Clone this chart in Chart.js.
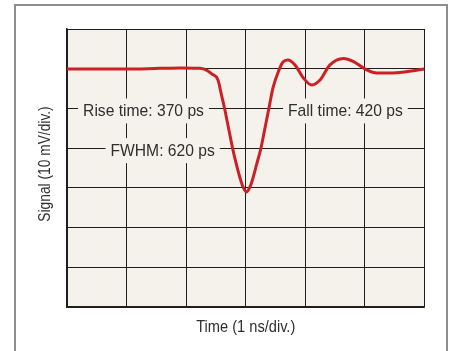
<!DOCTYPE html>
<html>
<head>
<meta charset="utf-8">
<script src="https://cdn.jsdelivr.net/npm/chart.js@4"></script>
<style>
  body { margin: 0; background: #fff; overflow: hidden; }
  #wrap { position: relative; width: 454px; height: 351px; }
  #frame { position: absolute; left: 14px; top: 4px; width: 430px; height: 400px; border: 2px solid #8e8e8e; }
  #myChart { position: absolute; left: 0; top: 0; }
</style>
</head>
<body>
<div id="wrap">
  <div id="frame"></div>
  <canvas id="myChart" width="454" height="351"></canvas>
</div>
<script>
// time in divisions (1 ns/div), signal in divisions (10 mV/div)
const timeDiv = [0, 0.99, 1.56, 1.90, 2.23, 2.35, 2.43, 2.534, 2.593, 2.643, 2.711, 2.778,
  2.845, 2.904, 2.954, 3.013, 3.071, 3.122, 3.180, 3.256, 3.323, 3.390, 3.457, 3.558,
  3.625, 3.709, 3.83, 3.97, 4.11, 4.25, 4.41, 4.64, 4.81, 5.03, 5.20, 5.53, 6.00];
const signalDiv = [5.99, 5.99, 6.01, 6.02, 6.01, 5.96, 5.87, 5.716, 5.339, 5.012, 4.508, 4.004,
  3.576, 3.249, 3.022, 2.896, 3.022, 3.249, 3.576, 4.004, 4.508, 5.012, 5.515, 5.968,
  6.17, 6.22, 6.09, 5.76, 5.59, 5.72, 6.09, 6.26, 6.18, 5.97, 5.89, 5.90, 5.99];

const labelTexts = ['Rise time: 370 ps', 'Fall time: 420 ps', 'FWHM: 620 ps'];
const labelX = [0.27, 3.71, 0.73];
const labelY = [5, 5, 4];
const xTitle = 'Time (1 ns/div.)';
const yTitle = 'Signal (10 mV/div.)';

const fontStr = '17px "Liberation Sans", Arial, sans-serif';

const points = timeDiv.map((t, i) => ({x: t, y: signalDiv[i]}));

// condensed text: squeeze horizontally
function narrowText(ctx, txt, x, y, align, sq) {
  ctx.save();
  ctx.translate(x, y);
  ctx.scale(sq, 1);
  ctx.textAlign = align;
  ctx.fillText(txt, 0, 0);
  ctx.restore();
}

const plotBg = {
  id: 'plotBg',
  beforeDraw(chart) {
    const {ctx, chartArea: a} = chart;
    ctx.save();
    ctx.fillStyle = '#f4f2eb';
    ctx.fillRect(a.left, a.top, a.right - a.left, a.bottom - a.top);
    ctx.restore();
  }
};

const notes = {
  id: 'notes',
  beforeDatasetsDraw(chart) {
    const {ctx, scales, chartArea: a} = chart;
    ctx.save();
    ctx.font = fontStr;
    ctx.textBaseline = 'middle';
    const sq = 0.92;
    for (let i = 0; i < labelTexts.length; i++) {
      const x = scales.x.getPixelForValue(labelX[i]);
      const y = scales.y.getPixelForValue(labelY[i]) + 3;
      const w = ctx.measureText(labelTexts[i]).width * sq;
      ctx.fillStyle = '#f4f2eb';
      ctx.fillRect(x - 5, y - 13, w + 10, 25);
      ctx.fillStyle = '#2e2e2e';
      narrowText(ctx, labelTexts[i], x, y, 'left', sq);
    }
    // axis titles
    ctx.fillStyle = '#2e2e2e';
    narrowText(ctx, xTitle, (a.left + a.right) / 2, a.bottom + 20, 'center', 0.86);
    ctx.save();
    ctx.translate(45, (a.top + a.bottom) / 2 - 4);
    ctx.rotate(-Math.PI / 2);
    narrowText(ctx, yTitle, 0, 0, 'center', 0.81);
    ctx.restore();
    ctx.restore();
  }
};

const ctx = document.getElementById('myChart').getContext('2d');
const myChart = new Chart(ctx, {
  type: 'scatter',
  data: {
    datasets: [{
      data: points,
      showLine: true,
      borderColor: '#cc1f26',
      borderWidth: 3,
      pointRadius: 0,
      cubicInterpolationMode: 'monotone',
      fill: false
    }]
  },
  options: {
    responsive: false,
    animation: false,
    layout: { autoPadding: false, padding: { left: 67, top: 29, right: 29.5, bottom: 44 } },
    plugins: { legend: { display: false }, tooltip: { enabled: false } },
    scales: {
      x: {
        min: 0, max: 6,
        ticks: { display: false, stepSize: 1 },
        grid: { color: '#1e1e1e', lineWidth: 1, drawTicks: false },
        border: { color: '#1e1e1e', width: 1.5 }
      },
      y: {
        min: 0, max: 7,
        ticks: { display: false, stepSize: 1 },
        grid: { color: '#1e1e1e', lineWidth: 1, drawTicks: false },
        border: { color: '#1e1e1e', width: 1.5 }
      }
    }
  },
  plugins: [plotBg, notes]
});
</script>
</body>
</html>
